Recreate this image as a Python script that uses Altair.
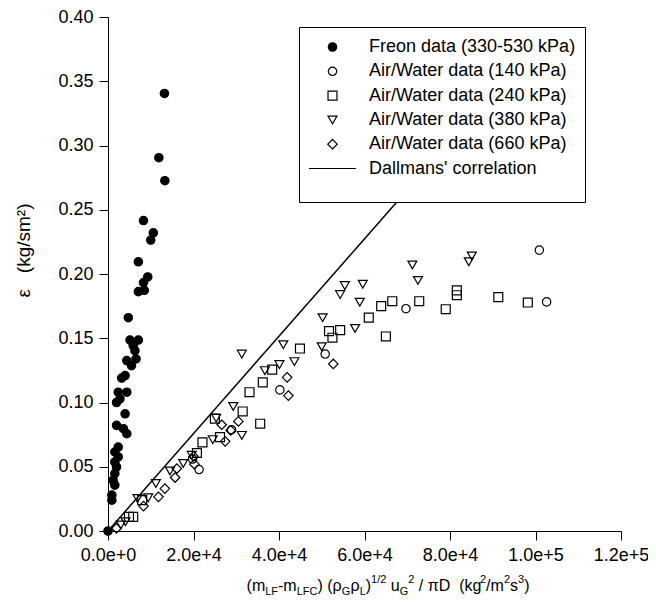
import altair as alt
import pandas as pd

# ---------------- data ----------------
freon_x = [13200, 11900, 13300, 8300, 10600, 10000, 7100, 9300, 8300, 7100, 8500, 4750, 5150, 7100,
           5900, 6300, 6550, 4400, 5500, 4000, 3200, 4400, 2400, 2800, 2000, 4000, 2000, 3600, 4400,
           2400, 1600, 2400, 1600, 2000, 1600, 1200, 1600, 900, 900, 0]
freon_y = [0.3405, 0.2905, 0.2726, 0.2416, 0.2320, 0.2264, 0.2095, 0.1977, 0.1933, 0.1863, 0.1873,
           0.1660, 0.1486, 0.1486, 0.1442, 0.1403, 0.1339, 0.1326, 0.1287, 0.1210, 0.1190, 0.1080,
           0.1080, 0.1029, 0.1000, 0.0912, 0.0822, 0.0796, 0.0757, 0.0653, 0.0615, 0.0576, 0.0537,
           0.0498, 0.0447, 0.0395, 0.0357, 0.0279, 0.0240, 0.0]

aw140_x = [100900, 102600, 69700, 50800, 40200, 28900, 21300, 19800]
aw140_y = [0.2186, 0.1783, 0.1730, 0.1377, 0.1098, 0.0788, 0.0478, 0.0560]

aw240_x = [98200, 91300, 81600, 81600, 79000, 72800, 66500, 63900, 61000, 65000, 54300, 51700, 52500,
           44900, 38400, 36200, 33100, 31500, 35600, 25000, 22100, 26200, 20800, 8000, 4900, 5900]
aw240_y = [0.1778, 0.1820, 0.1873, 0.1835, 0.1726, 0.1788, 0.1788, 0.1750, 0.1660, 0.1514, 0.1563,
           0.1556, 0.1504, 0.1420, 0.1256, 0.1157, 0.1080, 0.0930, 0.0835, 0.0874, 0.0690, 0.0731,
           0.0607, 0.0240, 0.0110, 0.0110]

aw380_x = [85100, 84400, 71200, 72500, 55400, 59600, 54300, 58900, 50200, 57800, 50000, 31300, 41000,
           43600, 40100, 36700, 29300, 31300, 25300, 24500, 19600, 17600, 14500, 11200, 9400, 6900,
           4100, 3000]
aw380_y = [0.2140, 0.2095, 0.2070, 0.1950, 0.1910, 0.1920, 0.1840, 0.1780, 0.1660, 0.1576, 0.1434,
           0.1377, 0.1450, 0.1318, 0.1295, 0.1248, 0.0969, 0.0744, 0.0878, 0.0711, 0.0589, 0.0525,
           0.0467, 0.0370, 0.0258, 0.0253, 0.0072, 0.0047]

aw660_x = [52700, 41900, 42200, 30500, 26600, 28700, 27400, 20200, 20000, 16100, 15700, 13300, 11800,
           8300, 2000]
aw660_y = [0.1300, 0.1196, 0.1054, 0.0853, 0.0827, 0.0783, 0.0698, 0.0520, 0.0581, 0.0486, 0.0416,
           0.0330, 0.0266, 0.0194, 0.0021]

dallman_x = [0, 90000]
dallman_y = [0.0, 0.341]

series_names = ["Freon data (330-530 kPa)", "Air/Water data (140 kPa)", "Air/Water data (240 kPa)",
                "Air/Water data (380 kPa)", "Air/Water data (660 kPa)", "Dallmans' correlation"]

x_ticks = [0, 20000, 40000, 60000, 80000, 100000, 120000]
y_ticks = [0.0, 0.05, 0.10, 0.15, 0.20, 0.25, 0.30, 0.35, 0.40]

# ---------------- tables ----------------
rows = []
for name, xs_, ys_ in [(series_names[0], freon_x, freon_y), (series_names[1], aw140_x, aw140_y),
                       (series_names[2], aw240_x, aw240_y), (series_names[3], aw380_x, aw380_y),
                       (series_names[4], aw660_x, aw660_y)]:
    for a, b in zip(xs_, ys_):
        rows.append({"x": a, "y": b, "series": name})
pts = pd.DataFrame(rows)
line_df = pd.DataFrame({"x": dallman_x, "y": dallman_y})

FONT = "Liberation Sans"
W, H = 513, 514
NB = "\u00a0"

legend = alt.Legend(
    title=" ", titleOrient="bottom", titleFontSize=11, titlePadding=2,
    orient="none", legendX=191, legendY=10,
    strokeColor="black", fillColor="white", padding=9, cornerRadius=0,
    labelFont=FONT, labelFontSize=18, labelColor="black", labelOffset=12,
    symbolStrokeWidth=1.2, rowPadding=2.3, clipHeight=22,
    labelLimit=400, zindex=1,
)

dom = series_names
shape_scale = alt.Scale(domain=dom, range=["circle", "circle", "square", "triangle-down", "diamond", "stroke"])
fill_scale = alt.Scale(domain=dom, range=["black", "transparent", "transparent", "transparent", "transparent", "black"])
stroke_scale = alt.Scale(domain=dom, range=["black"] * 6)
size_scale = alt.Scale(type="ordinal", domain=dom, range=[70, 70, 80, 80, 90, 2209])

xs = alt.Scale(domain=[0, 120000], nice=False, zero=False)
ys = alt.Scale(domain=[0, 0.4], nice=False, zero=False)

line = alt.Chart(line_df).mark_line(color="black", strokeWidth=1.5).encode(
    x=alt.X("x:Q", scale=xs),
    y=alt.Y("y:Q", scale=ys),
)

points = alt.Chart(pts).mark_point(filled=True, opacity=1, strokeWidth=1.2).encode(
    x=alt.X("x:Q", scale=xs, axis=alt.Axis(values=x_ticks, format=".1e", title=None, labelPadding=6,
                                           labelFlush=False, labelOverlap=False)),
    y=alt.Y("y:Q", scale=ys, axis=alt.Axis(values=y_ticks, format=".2f",
                                           title="ε" + NB * 3 + "(kg/sm²)", titleFontSize=19,
                                           titleX=-75, titleY=233, labelPadding=6,
                                           labelFlush=False, labelOverlap=False)),
    shape=alt.Shape("series:N", scale=shape_scale, legend=legend),
    fill=alt.Fill("series:N", scale=fill_scale, legend=legend),
    stroke=alt.Stroke("series:N", scale=stroke_scale, legend=legend),
    size=alt.Size("series:N", scale=size_scale, legend=legend),
)

# ---------------- x-axis title, built from pieces (sub/superscripts) ----------------
AW = {NB: 278, '(': 333, ')': 333, '-': 333, '/': 278, 'm': 833, 'L': 556, 'F': 611, 'C': 722,
      'G': 778, 'D': 722, 'u': 556, 'k': 500, 'g': 556, 's': 500, '1': 556, '2': 556, '3': 556,
      'ρ': 578, 'π': 600}
M, S = 16, 11
pieces = [("(m", 0), ("LF", 1), ("-m", 0), ("LFC", 1), (")" + NB + "(ρ", 0), ("G", 1), ("ρ", 0), ("L", 1),
          (")", 0), ("1/2", -1), (NB + "u", 0), ("G", 1), ("2", -1), (NB + "/" + NB + "πD" + NB + NB + "(kg", 0),
          ("2", -1), ("/m", 0), ("2", -1), ("s", 0), ("3", -1), (")", 0)]


def tw(t, fs):
    return sum(AW.get(c, 556) for c in t) / 1000 * fs


total = sum(tw(t, M if k == 0 else S) for t, k in pieces)
cx = 280
base = 574
cur = cx - total / 2
title_layers = []
for t, k in pieces:
    fs = M if k == 0 else S
    yy = base + (4 if k == 1 else (-8 if k == -1 else 0))
    core = t.lstrip(NB)
    cur += tw(t[: len(t) - len(core)], fs)   # leading spaces become an offset
    title_layers.append(
        alt.Chart(pd.DataFrame({"t": [core]})).mark_text(
            align="left", baseline="alphabetic", font=FONT, fontSize=fs, color="black"
        ).encode(x=alt.value(cur), y=alt.value(yy), text="t:N")
    )
    cur += tw(core, fs)

chart = alt.layer(line, points, *title_layers).properties(
    width=W, height=H,
    padding={"left": 100, "top": 9, "right": 27, "bottom": 70},
    autosize=alt.AutoSizeParams(type="none"),
    background="white",
).configure_view(stroke=None).configure_axis(
    grid=False, domainColor="black", domainWidth=1, tickColor="black", tickWidth=1, tickSize=9,
    labelFont=FONT, labelFontSize=18, labelColor="black",
    titleFont=FONT, titleFontSize=18, titleFontWeight="normal", titleColor="black",
)

chart.save("out.html", embed_options={"renderer": "svg", "actions": False})
